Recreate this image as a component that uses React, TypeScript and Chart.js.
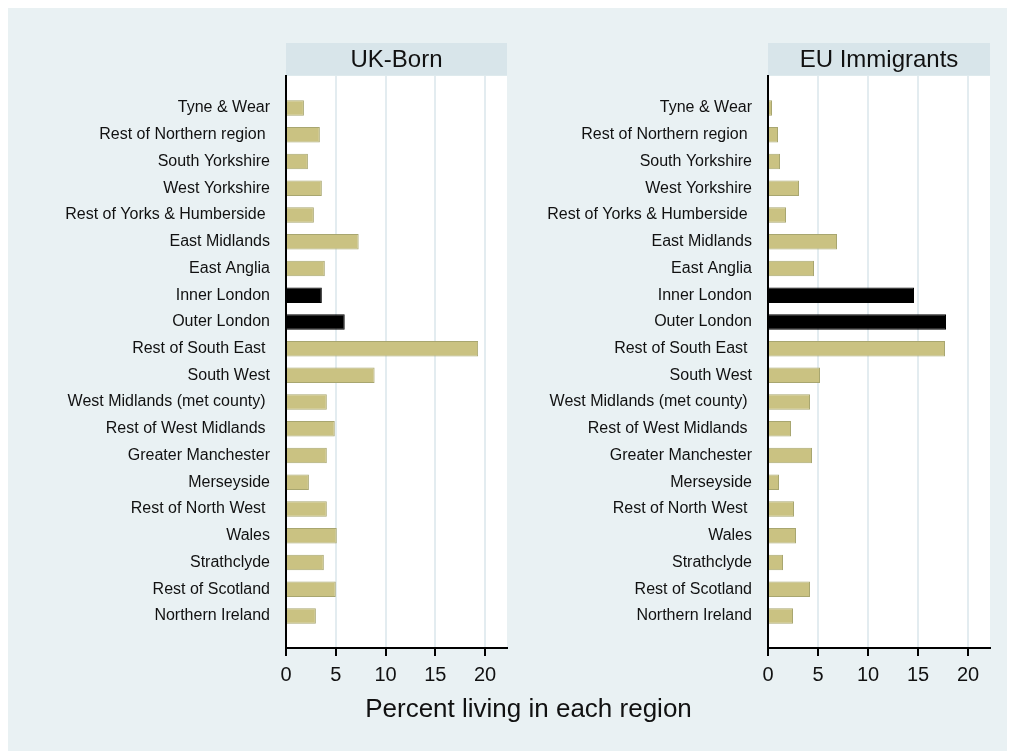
import React, { useEffect, useRef } from "react";
import { Chart, registerables } from "chart.js";

Chart.register(...registerables);

const regions = [
  "Tyne & Wear",
  "Rest of Northern region ",
  "South Yorkshire",
  "West Yorkshire",
  "Rest of Yorks & Humberside ",
  "East Midlands",
  "East Anglia",
  "Inner London",
  "Outer London",
  "Rest of South East ",
  "South West",
  "West Midlands (met county) ",
  "Rest of West Midlands ",
  "Greater Manchester",
  "Merseyside",
  "Rest of North West ",
  "Wales",
  "Strathclyde",
  "Rest of Scotland",
  "Northern Ireland",
];

const ukBornPct = [1.8, 3.4, 2.2, 3.6, 2.8, 7.3, 3.9, 3.6, 5.9, 19.3, 8.9, 4.1, 4.9, 4.1, 2.3, 4.1, 5.1, 3.8, 5.0, 3.0];
const euImmigrantPct = [0.4, 1.0, 1.2, 3.1, 1.8, 6.9, 4.6, 14.6, 17.8, 17.7, 5.2, 4.2, 2.3, 4.4, 1.1, 2.6, 2.8, 1.5, 4.2, 2.5];

const highlightRegions = ["Inner London", "Outer London"];
const panelTitles = ["UK-Born", "EU Immigrants"];
const xTickValues = [0, 5, 10, 15, 20];
const xAxisTitle = "Percent living in each region";

const FONT = "'Liberation Sans', Arial, Helvetica, sans-serif";
const BG = "#E9F1F3";
const STRIP = "#D8E5EA";
const KHAKI = "rgb(202,194,130)";
const KHAKI_BORDER = "rgb(168,166,112)";
const TEXT = "#111";

const panelDecor = {
  id: "panelDecor",
  beforeDraw(chart: any, _args: any, opts: any) {
    const { ctx, chartArea: a } = chart;
    ctx.save();
    ctx.fillStyle = "#ffffff";
    ctx.fillRect(a.left, a.top, a.right - a.left, a.bottom - a.top);
    ctx.fillStyle = STRIP;
    ctx.fillRect(a.left, a.top - 33, a.right - a.left, 32.6);
    ctx.fillStyle = TEXT;
    ctx.font = `24px ${FONT}`;
    ctx.textAlign = "center";
    ctx.textBaseline = "alphabetic";
    ctx.fillText(opts.title, (a.left + a.right) / 2, a.top - 8.6);
    ctx.restore();
  },
};

type PanelProps = {
  title: string;
  values: number[];
  left: number;
  width: number;
  height: number;
  yAxisWidth: number;
  padRight: number;
};

function Panel({ title, values, left, width, height, yAxisWidth, padRight }: PanelProps) {
  const ref = useRef<HTMLCanvasElement | null>(null);

  useEffect(() => {
    if (!ref.current) return;
    const colors = regions.map((r) => (highlightRegions.includes(r.trim()) ? "#000000" : KHAKI));
    const borders = regions.map((r) => (highlightRegions.includes(r.trim()) ? "#000000" : KHAKI_BORDER));
    const chart = new Chart(ref.current, {
      type: "bar",
      data: {
        datasets: [
          {
            data: values.map((v, i) => ({ x: v, y: i })),
            backgroundColor: colors,
            borderColor: borders,
            borderWidth: 1,
            barPercentage: 0.58,
            categoryPercentage: 1,
          },
        ],
      },
      options: {
        indexAxis: "y",
        responsive: false,
        animation: false,
        devicePixelRatio: 1,
        layout: { padding: { top: 68, right: padRight, left: 0, bottom: 0 } },
        plugins: {
          legend: { display: false },
          tooltip: { enabled: false },
          panelDecor: { title },
        } as any,
        scales: {
          y: {
            type: "linear",
            position: "left",
            offset: false,
            min: -1.2,
            max: 20.2,
            reverse: true,
            afterBuildTicks: (scale: any) => {
              scale.ticks = regions.map((_, i) => ({ value: i }));
            },
            afterFit: (scale: any) => {
              scale.width = yAxisWidth;
            },
            ticks: {
              autoSkip: false,
              padding: 16,
              color: TEXT,
              font: { family: FONT, size: 16 },
              callback: (v: any) => regions[Math.round(Number(v))],
            },
            grid: { display: false, drawTicks: false, offset: false },
            border: { display: true, color: "#000", width: 2 },
          },
          x: {
            type: "linear",
            position: "bottom",
            min: 0,
            max: 22.2,
            afterBuildTicks: (scale: any) => {
              scale.ticks = xTickValues.map((v) => ({ value: v }));
            },
            afterFit: (scale: any) => {
              scale.height = 50;
            },
            ticks: {
              includeBounds: false,
              padding: 7,
              color: TEXT,
              font: { family: FONT, size: 20 },
              maxRotation: 0,
            },
            grid: {
              color: (c: any) => (c.tick && c.tick.value === 0 ? "rgba(0,0,0,0)" : "#E3ECF0"),
              lineWidth: 2,
              drawTicks: true,
              tickLength: 8,
              tickColor: "#000",
              tickWidth: 2,
            },
            border: { display: true, color: "#000", width: 2 },
          },
        },
      } as any,
      plugins: [panelDecor as any],
    });
    return () => chart.destroy();
  }, [title, values, yAxisWidth, padRight]);

  return (
    <canvas
      ref={ref}
      width={width}
      height={height}
      style={{ position: "absolute", left, top: 0, width, height }}
    />
  );
}

export default function App() {
  return (
    <div
      style={{
        position: "relative",
        width: 1007,
        height: 743,
        background: BG,
        overflow: "hidden",
        fontFamily: FONT,
      }}
    >
      <Panel title={panelTitles[0]} values={ukBornPct} left={0} width={505} height={690} yAxisWidth={278} padRight={6} />
      <Panel title={panelTitles[1]} values={euImmigrantPct} left={505} width={495} height={690} yAxisWidth={255} padRight={18} />
      <div
        style={{
          position: "absolute",
          left: 520.5,
          top: 687,
          transform: "translateX(-50%)",
          fontSize: 26,
          lineHeight: "26px",
          color: TEXT,
          whiteSpace: "nowrap",
        }}
      >
        {xAxisTitle}
      </div>
    </div>
  );
}
